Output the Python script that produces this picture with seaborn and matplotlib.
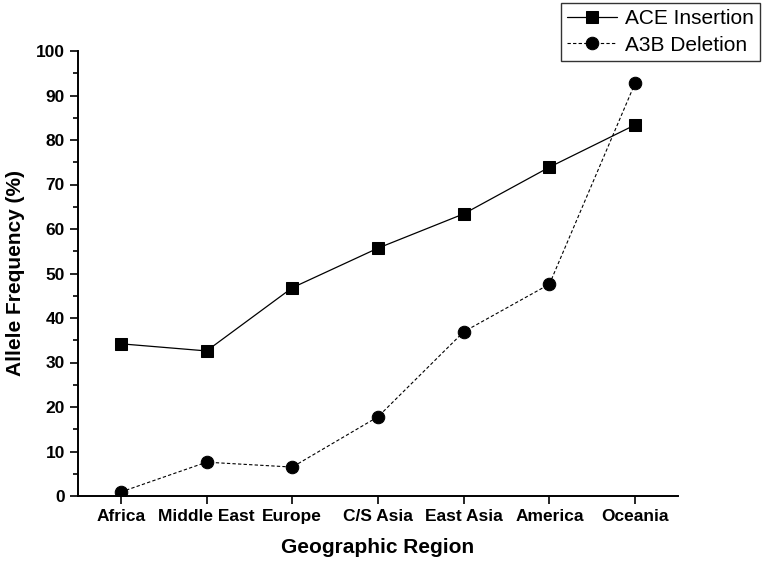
import matplotlib
matplotlib.use("Agg")
import matplotlib.pyplot as plt
import seaborn as sns
import pandas as pd
from matplotlib.ticker import MultipleLocator

regions = ["Africa", "Middle East", "Europe", "C/S Asia", "East Asia", "America", "Oceania"]
ace_insertion = [34.2, 32.6, 46.8, 55.7, 63.4, 73.9, 83.4]
a3b_deletion = [0.9, 7.6, 6.5, 17.8, 36.9, 47.6, 92.8]

df = pd.DataFrame({
    "Region": regions * 2,
    "Value": ace_insertion + a3b_deletion,
    "Series": ["ACE Insertion"] * len(regions) + ["A3B Deletion"] * len(regions),
})

sns.set_style("ticks")
plt.rcParams["font.family"] = ["Liberation Sans", "DejaVu Sans"]
plt.rcParams["text.color"] = "black"
plt.rcParams["axes.labelcolor"] = "black"
plt.rcParams["xtick.color"] = "black"
plt.rcParams["ytick.color"] = "black"

fig = plt.figure(figsize=(7.68, 5.68), dpi=100)
ax = fig.add_axes([78/768, 1 - 496/568, 600/768, 445/568])

sns.lineplot(
    data=df, x="Region", y="Value", style="Series",
    markers={"ACE Insertion": "s", "A3B Deletion": "o"},
    dashes={"ACE Insertion": "", "A3B Deletion": (3, 2)},
    color="black", markersize=8, markeredgecolor="black",
    linewidth=0.9, ax=ax, legend=True, sort=False,
)
for ln in ax.lines:
    if ln.get_linestyle() not in ("-", "solid"):
        ln.set_linewidth(0.8)
    if ln.get_marker() == "o":
        ln.set_markersize(9)

ax.set_xlim(-0.5, 6.5)
ax.set_ylim(0, 100)
ax.yaxis.set_major_locator(MultipleLocator(10))
ax.yaxis.set_minor_locator(MultipleLocator(5))
ax.tick_params(axis="both", which="major", direction="out", length=6, width=1.2,
               labelsize=12.5, color="black", labelcolor="black")
ax.tick_params(axis="y", which="minor", direction="out", length=3.5, width=1.2, color="black")
for lab in ax.get_xticklabels() + ax.get_yticklabels():
    lab.set_fontweight("bold")
for s in ["left", "bottom"]:
    ax.spines[s].set_linewidth(1.4)
    ax.spines[s].set_color("black")
sns.despine(ax=ax)

ax.set_xlabel("Geographic Region", fontsize=15, fontweight="bold", labelpad=10, color="black")
ax.set_ylabel("Allele Frequency (%)", fontsize=15, fontweight="bold", labelpad=8, color="black")

handles, labels = ax.get_legend_handles_labels()
ax.get_legend().remove()
leg = fig.legend(handles, labels, loc="upper right", bbox_to_anchor=(0.994, 1.0),
                 frameon=True, fancybox=False, edgecolor="black", fontsize=15,
                 borderaxespad=0.15, handlelength=2.4, labelspacing=0.35,
                 borderpad=0.3, handletextpad=0.4)
leg.get_frame().set_linewidth(1.0)
for t in leg.get_texts():
    t.set_color("black")

fig.savefig("out.png", dpi=100)
